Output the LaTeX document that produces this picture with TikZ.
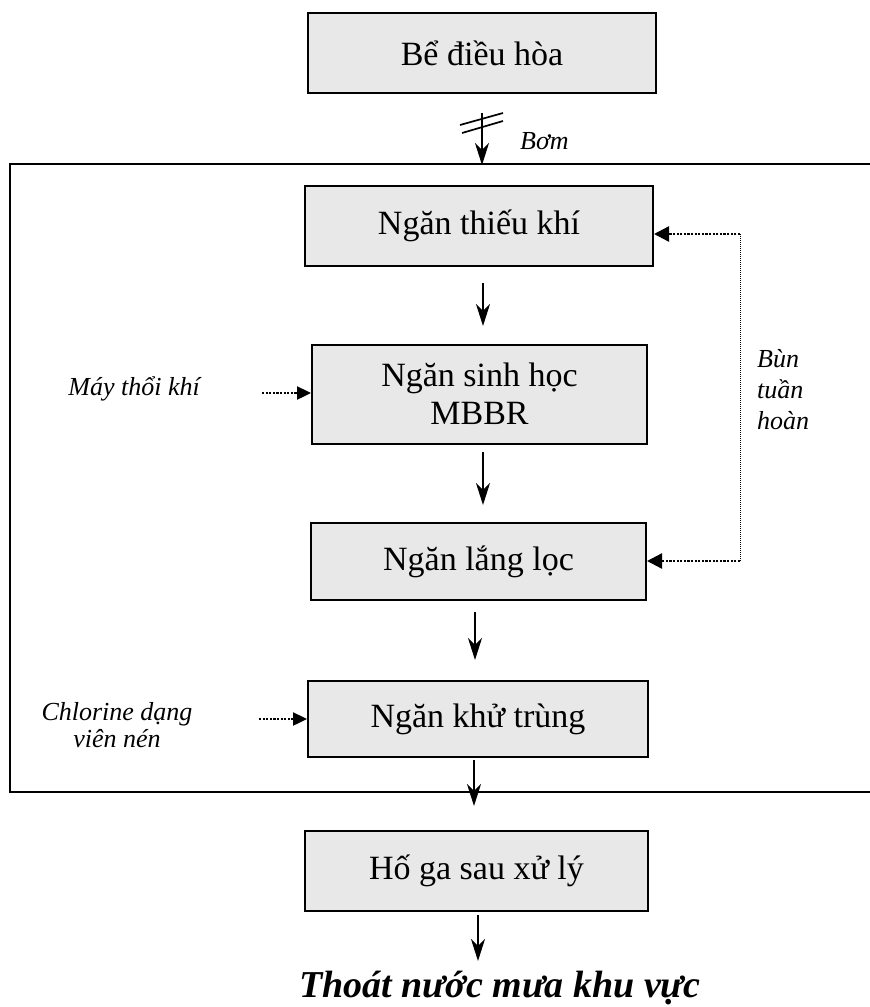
\documentclass[tikz,border=0pt]{standalone}
\usepackage{fontspec}
\setmainfont{Liberation Serif}
\usetikzlibrary{arrows.meta}
\definecolor{boxgray}{RGB}{232,232,232}
\tikzset{
  box/.style={draw, line width=2pt, fill=boxgray, align=center, inner sep=0pt,
    font=\fontsize{34}{38}\selectfont},
  arr/.style={line width=2pt, -{Stealth[length=22pt,width=14pt,inset=7pt]}},
  dotarr/.style={line width=2.4pt, dash pattern=on 2.2pt off 1.4pt, -{Triangle[length=15pt,width=15pt]}},
  feedarr/.style={line width=2.4pt, dash pattern=on 2.2pt off 1.4pt, -{Triangle[length=14pt,width=13pt]}},
  lbl/.style={font=\fontsize{26}{29}\selectfont\itshape, inner sep=0pt},
}
\begin{document}
\begin{tikzpicture}[x=1pt,y=-1pt]
\useasboundingbox (0,0) rectangle (870,1007);
% frame
\draw[line width=2pt] (872,164) -- (10,164) -- (10,792) -- (872,792);
% boxes
\node[box, minimum width=348pt, minimum height=80pt] (b1) at (482,53) {Bể điều hòa};
\node[box, minimum width=348pt, minimum height=80pt] (b2) at (479,226) {Ngăn thiếu khí};
\node[box, minimum width=335pt, minimum height=99pt] (b3) at (479.5,394) {Ngăn sinh học\\MBBR};
\node[box, minimum width=335pt, minimum height=77pt] (b4) at (478.5,561.5) {Ngăn lắng lọc};
\node[box, minimum width=340pt, minimum height=76pt] (b5) at (478,719) {Ngăn khử trùng};
\node[box, minimum width=343pt, minimum height=80pt] (b6) at (476.5,871) {Hố ga sau xử lý};
% pump arrow
\coordinate (p1) at (482,113);
\coordinate (p2) at (482,165);
\draw[arr] (p1) -- (p2);
\draw[line width=1.7pt] (460,125) -- (503,113);
\draw[line width=1.7pt] (462,133) -- (503,121);
\node[lbl, anchor=base west] (bom) at (520,149) {Bơm};
% flow arrows
\coordinate (a2s) at (483,283); \coordinate (a2e) at (483,326);
\draw[arr] (a2s) -- (a2e);
\coordinate (a3s) at (483,452); \coordinate (a3e) at (483,505);
\draw[arr] (a3s) -- (a3e);
\coordinate (a4s) at (475,612); \coordinate (a4e) at (475,660);
\draw[arr] (a4s) -- (a4e);
\coordinate (a5s) at (474,760); \coordinate (a5e) at (474,806);
\draw[arr] (a5s) -- (a5e);
\coordinate (a6s) at (478,915); \coordinate (a6e) at (478,961);
\draw[arr] (a6s) -- (a6e);
% recirculation
\coordinate (r1) at (740,234);
\coordinate (r2) at (740,561);
\draw[line width=1pt, dash pattern=on 1pt off 1pt] (r1) -- (r2);
\draw[dotarr] (r1) -- (r1 -| b2.east);
\draw[dotarr] (r2) -- (r2 -| b4.east);
\node[lbl, align=left, anchor=north west, font=\fontsize{26}{31}\selectfont\itshape] (bun) at (757,349) {Bùn\\tuần\\hoàn};
% blower
\node[lbl, anchor=base east] (may) at (200,395) {Máy thổi khí};
\coordinate (m1) at (262,393);
\draw[feedarr] (m1) -- (m1 -| b3.west);
% chlorine
\node[lbl, align=center, anchor=north, font=\fontsize{26}{27}\selectfont\itshape] (cl) at (117,702) {Chlorine dạng\\viên nén};
\coordinate (c1) at (259,719);
\draw[feedarr] (c1) -- (c1 -| b5.west);
% outlet
\node[inner sep=0pt, anchor=base, font=\fontsize{38}{44}\selectfont\bfseries\itshape] (out) at (500,997) {Thoát nước mưa khu vực};
\end{tikzpicture}
\end{document}
